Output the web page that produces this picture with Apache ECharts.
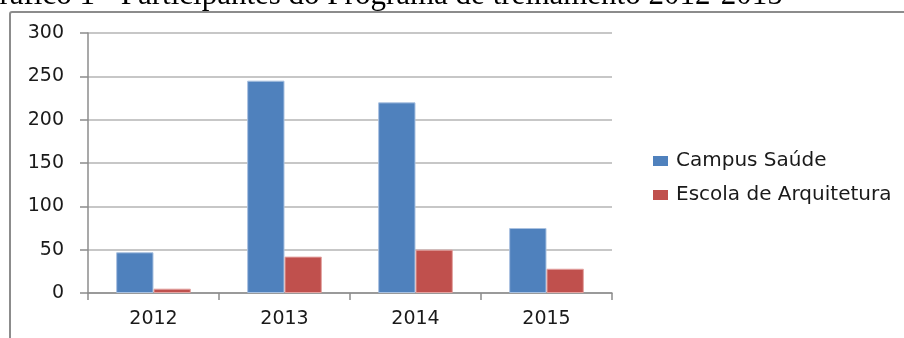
<!DOCTYPE html>
<html>
<head>
<meta charset="utf-8">
<script src="https://cdn.jsdelivr.net/npm/echarts@6/dist/echarts.min.js"></script>
<style>
  html, body { margin: 0; padding: 0; background: #fff; }
  #chart { width: 904px; height: 338px; }
</style>
</head>
<body>
<div id="chart"></div>
<script>
// Participants per year, by unit
const years = ['2012', '2013', '2014', '2015'];
const campusSaude = [47, 245, 220, 75];
const escolaArquitetura = [5, 42, 50, 28];
const yTicks = { min: 0, max: 300, interval: 50 };

const chart = echarts.init(document.getElementById('chart'), null, { renderer: 'canvas' });

const labelFont = { fontFamily: 'DejaVu Sans', fontSize: 19, color: '#1a1a1a' };

chart.setOption({
  animation: false,
  backgroundColor: '#fff',
  title: {
    text: 'Gráfico 1 - Participantes do Programa de treinamento 2012-2015',
    left: -23,
    top: -20,
    padding: 0,
    textStyle: { fontFamily: 'Liberation Serif', fontSize: 31, fontWeight: 'normal', color: '#000' }
  },
  graphic: [{
    type: 'rect',
    shape: { x: 10, y: 12, width: 920, height: 360, r: 2 },
    style: { fill: 'none', stroke: '#8c8c8c', lineWidth: 2 },
    silent: true
  }],
  legend: {
    orient: 'vertical',
    left: 648,
    top: 146,
    itemWidth: 15,
    itemHeight: 10,
    itemGap: 14,
    icon: 'rect',
    itemStyle: { borderWidth: 0 },
    textStyle: { fontFamily: 'DejaVu Sans', fontSize: 20, color: '#1a1a1a', padding: [0, 0, 0, 3] }
  },
  grid: { left: 88, right: 292, top: 33, bottom: 45, containLabel: false },
  xAxis: {
    type: 'category',
    data: years,
    axisLine: { lineStyle: { color: '#8c8c8c', width: 1.5 } },
    axisTick: { show: true, length: 7, lineStyle: { color: '#8c8c8c', width: 1.5 } },
    axisLabel: Object.assign({ margin: 17 }, labelFont)
  },
  yAxis: {
    type: 'value',
    min: yTicks.min,
    max: yTicks.max,
    interval: yTicks.interval,
    axisLine: { show: true, lineStyle: { color: '#8c8c8c', width: 1.5 } },
    axisTick: { show: true, length: 8, lineStyle: { color: '#8c8c8c', width: 1.5 } },
    axisLabel: Object.assign({ margin: 24 }, labelFont),
    splitLine: { lineStyle: { color: '#b5b5b5', width: 1.5 } }
  },
  series: [
    {
      name: 'Campus Saúde',
      type: 'bar',
      data: campusSaude,
      barGap: '0%',
      barCategoryGap: '43%',
      itemStyle: { color: '#4F81BD', borderColor: '#a9c1e0', borderWidth: 1 }
    },
    {
      name: 'Escola de Arquitetura',
      type: 'bar',
      data: escolaArquitetura,
      barGap: '0%',
      barCategoryGap: '43%',
      itemStyle: { color: '#C0504D', borderColor: '#e3a3a1', borderWidth: 1 }
    }
  ]
});
</script>
</body>
</html>
